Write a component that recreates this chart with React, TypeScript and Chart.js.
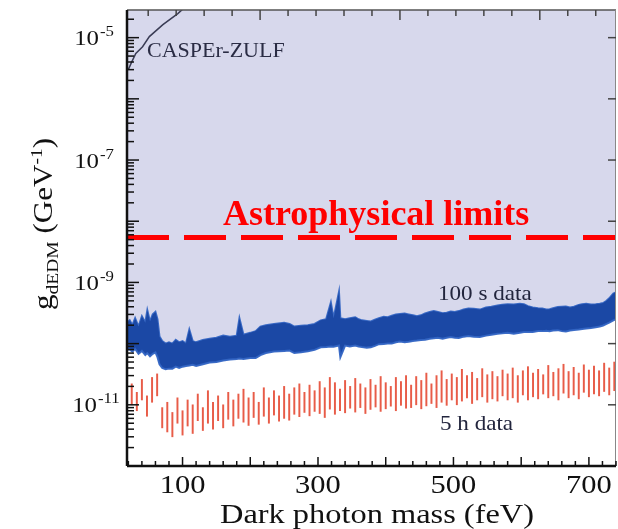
import React, { useEffect, useRef } from "react";
import { Chart, registerables } from "chart.js";

Chart.register(...registerables);

// ---------- data ----------
const blueMass = [18, 22, 26, 30, 35, 40, 45, 48, 52, 56, 60, 63, 66, 70, 75, 80, 85, 90, 95, 100, 105, 110, 115, 120, 130, 140, 150, 160, 170, 180, 184, 190, 200, 208, 215, 223, 235, 250, 258, 265, 275, 285, 295, 304, 312, 319, 323, 331, 333,
  340, 347, 355, 360, 365, 372, 378, 384, 390, 397, 403, 409, 415, 421, 428, 434, 440, 446, 452, 458, 465, 471, 477, 484, 490, 496, 502, 508, 515, 522, 530, 539, 548, 556, 565, 572, 580, 589, 598, 604, 610, 617, 625, 631, 637, 642, 647, 654, 660, 666, 672, 678, 685, 690, 696, 703, 710, 716, 721, 726, 730, 736, 746];
const blueHi = [2.2e-10, 2.4e-10, 2.0e-10, 2.6e-10, 1.9e-10, 2.8e-10, 2.2e-10, 3.5e-10, 2.3e-10, 3.0e-10, 3.3e-10, 2.5e-10, 1.3e-10, 1.1e-10, 1.0e-10, 1.05e-10, 1.0e-10, 1.15e-10, 1.05e-10, 1.1e-10, 1.0e-10, 1.7e-10, 1.1e-10, 1.05e-10, 1.15e-10, 1.2e-10, 1.25e-10, 1.35e-10, 1.3e-10, 1.35e-10, 2.6e-10, 1.4e-10, 1.5e-10, 1.6e-10, 1.9e-10, 2.0e-10, 2.1e-10, 2.2e-10, 2.1e-10, 1.9e-10, 1.95e-10, 2.0e-10, 2.1e-10, 2.4e-10, 2.5e-10, 4.7e-10, 2.6e-10, 7.0e-10, 2.6e-10,
  2.5e-10, 2.6e-10, 2.7e-10, 2.5e-10, 2.4e-10, 2.35e-10, 2.3e-10, 2.45e-10, 2.6e-10, 2.75e-10, 2.7e-10, 2.85e-10, 3.0e-10, 3.05e-10, 3.1e-10, 3.0e-10, 2.9e-10, 2.8e-10, 2.9e-10, 3.1e-10, 3.3e-10, 3.4e-10, 3.3e-10, 3.15e-10, 3.2e-10, 3.35e-10, 3.3e-10, 3.4e-10, 3.6e-10, 3.75e-10, 3.7e-10, 3.6e-10, 3.9e-10, 4.0e-10, 4.2e-10, 4.3e-10, 4.4e-10, 4.35e-10, 4.5e-10, 4.4e-10, 4.1e-10, 3.9e-10, 3.8e-10, 3.75e-10, 3.6e-10, 3.65e-10, 3.8e-10, 3.95e-10, 4.0e-10, 4.05e-10, 3.9e-10, 4.0e-10, 4.3e-10, 4.4e-10, 4.5e-10, 4.35e-10, 4.4e-10, 4.5e-10, 4.6e-10, 5.0e-10, 5.5e-10, 6.6e-10, 7.4e-10];
const blueLo = [8.0e-11, 8.0e-11, 7.4e-11, 8.2e-11, 6.8e-11, 7.6e-11, 6.5e-11, 7.0e-11, 6.2e-11, 6.8e-11, 7.2e-11, 6.0e-11, 4.6e-11, 4.0e-11, 3.8e-11, 3.9e-11, 3.9e-11, 4.2e-11, 4.0e-11, 4.2e-11, 4.3e-11, 4.4e-11, 4.5e-11, 4.3e-11, 4.6e-11, 4.9e-11, 5.0e-11, 5.3e-11, 5.5e-11, 5.6e-11, 5.7e-11, 5.6e-11, 5.8e-11, 5.8e-11, 6.5e-11, 7.0e-11, 7.4e-11, 7.6e-11, 7.7e-11, 7.0e-11, 7.2e-11, 7.5e-11, 7.9e-11, 8.7e-11, 8.8e-11, 9.0e-11, 8.9e-11, 9.3e-11, 6.0e-11,
  9.3e-11, 9.0e-11, 9.3e-11, 9.0e-11, 8.8e-11, 8.6e-11, 8.7e-11, 9.2e-11, 9.8e-11, 9.9e-11, 1.0e-10, 1.0e-10, 1.05e-10, 1.08e-10, 1.05e-10, 1.07e-10, 1.1e-10, 1.12e-10, 1.15e-10, 1.16e-10, 1.2e-10, 1.22e-10, 1.25e-10, 1.2e-10, 1.25e-10, 1.28e-10, 1.25e-10, 1.24e-10, 1.3e-10, 1.33e-10, 1.3e-10, 1.28e-10, 1.35e-10, 1.4e-10, 1.45e-10, 1.47e-10, 1.5e-10, 1.45e-10, 1.5e-10, 1.55e-10, 1.55e-10, 1.55e-10, 1.6e-10, 1.6e-10, 1.62e-10, 1.6e-10, 1.64e-10, 1.66e-10, 1.6e-10, 1.58e-10, 1.64e-10, 1.67e-10, 1.7e-10, 1.74e-10, 1.77e-10, 1.8e-10, 1.85e-10, 1.9e-10, 1.98e-10, 2.1e-10, 2.2e-10, 2.4e-10, 2.7e-10];

const redMass = [25, 32.5, 40, 47.5, 55, 62.5, 70, 77.5, 85, 92.5, 100, 107.5, 115, 122.5, 130, 137.5, 145, 152.5, 160, 167.5, 175, 182.5, 190, 197.5, 205, 212.5, 220, 227.5, 235, 242.5, 250, 257.5, 265, 272.5, 280, 287.5, 295, 302.5, 310, 317.5, 325, 332.5, 340, 347.5, 355, 362.5, 370, 377.5, 385, 392.5, 400, 407.5, 415, 422.5, 430, 437.5, 445, 452.5, 460, 467.5, 475, 482.5, 490, 497.5, 505, 512.5, 520, 527.5, 535, 542.5, 550, 557.5, 565, 572.5, 580, 587.5, 595, 602.5, 610, 617.5, 625, 632.5, 640, 647.5, 655, 662.5, 670, 677.5, 685, 692.5, 700, 707.5, 715, 722.5, 730, 737.5, 745];
const redHi = [2.2e-11, 1.6e-11, 2.6e-11, 1.4e-11, 2.8e-11, 3.2e-11, 9e-12, 1.1e-11, 7.5e-12, 1.3e-11, 8e-12, 1.2e-11, 1.0e-11, 1.5e-11, 9e-12, 1.7e-11, 1.1e-11, 1.4e-11, 1.0e-11, 1.6e-11, 1.2e-11, 1.5e-11, 1.8e-11, 1.3e-11, 1.6e-11, 1.1e-11, 1.9e-11, 1.3e-11, 1.7e-11, 1.4e-11, 2.0e-11, 1.5e-11, 1.9e-11, 2.2e-11, 1.6e-11, 2.1e-11, 1.7e-11, 2.4e-11, 1.9e-11, 2.8e-11, 2.3e-11, 1.8e-11, 2.5e-11, 2.0e-11, 2.7e-11, 2.2e-11, 1.9e-11, 2.6e-11, 2.1e-11, 2.9e-11, 2.3e-11, 2.0e-11, 2.8e-11, 2.4e-11, 3.0e-11, 2.1e-11, 2.9e-11, 2.5e-11, 3.3e-11, 2.2e-11, 3.0e-11, 3.6e-11, 2.6e-11, 3.2e-11, 2.8e-11, 3.8e-11, 3.0e-11, 3.4e-11, 2.7e-11, 3.9e-11, 3.1e-11, 3.5e-11, 2.9e-11, 3.7e-11, 3.2e-11, 4.0e-11, 3.0e-11, 3.6e-11, 4.2e-11, 3.3e-11, 3.8e-11, 3.1e-11, 4.4e-11, 3.4e-11, 3.9e-11, 4.6e-11, 3.5e-11, 4.1e-11, 3.3e-11, 4.5e-11, 3.7e-11, 4.3e-11, 3.6e-11, 4.8e-11, 4.0e-11, 5.0e-11, 4.2e-11];
const redLo = [1.0e-11, 8.0e-12, 1.2e-11, 6.5e-12, 1.1e-11, 1.4e-11, 4.2e-12, 3.6e-12, 3.0e-12, 5.0e-12, 3.2e-12, 4.5e-12, 3.4e-12, 5.5e-12, 3.8e-12, 5.0e-12, 4.0e-12, 5.5e-12, 4.2e-12, 5.8e-12, 4.5e-12, 6.0e-12, 5.2e-12, 4.6e-12, 6.2e-12, 4.8e-12, 6.5e-12, 5.0e-12, 6.8e-12, 5.4e-12, 6.0e-12, 5.6e-12, 7.0e-12, 6.4e-12, 7.5e-12, 6.6e-12, 7.8e-12, 7.2e-12, 6.2e-12, 8.5e-12, 7.0e-12, 8.0e-12, 7.4e-12, 8.8e-12, 7.6e-12, 9.0e-12, 7.2e-12, 8.4e-12, 9.2e-12, 7.8e-12, 8.6e-12, 9.5e-12, 8.0e-12, 9.8e-12, 8.8e-12, 9.0e-12, 1.0e-11, 8.6e-12, 9.6e-12, 1.05e-11, 9.0e-12, 1.1e-11, 9.8e-12, 1.2e-11, 1.0e-11, 1.15e-11, 1.3e-11, 1.05e-11, 1.2e-11, 1.35e-11, 1.1e-11, 1.25e-11, 1.15e-11, 1.4e-11, 1.2e-11, 1.3e-11, 1.1e-11, 1.45e-11, 1.2e-11, 1.35e-11, 1.25e-11, 1.5e-11, 1.3e-11, 1.4e-11, 1.2e-11, 1.55e-11, 1.3e-11, 1.45e-11, 1.25e-11, 1.6e-11, 1.35e-11, 1.5e-11, 1.4e-11, 1.65e-11, 1.45e-11, 1.7e-11, 1.5e-11];

const casperMass = [20, 24, 31, 41, 51, 71, 93, 100];
const casperG = [3.0e-6, 3.8e-6, 5.5e-6, 7.1e-6, 1.04e-5, 1.63e-5, 2.47e-5, 2.9e-5];

const astroLimit = 5.4e-9;

const xTickValues = [100, 300, 500, 700];
const yTickExponents = [-5, -7, -9, -11];

const X_MIN = 18;
const X_MAX = 740;
const Y_MIN = 1e-12;
const Y_MAX = 2.83e-5;

const SERIF = '"Liberation Serif", "Times New Roman", serif';

function drawStretched(
  ctx: CanvasRenderingContext2D,
  text: string,
  x: number,
  y: number,
  font: string,
  align: "left" | "center" | "right",
  sx: number,
  color: string
): number {
  ctx.save();
  ctx.font = font;
  ctx.fillStyle = color;
  ctx.textBaseline = "alphabetic";
  ctx.textAlign = "left";
  const w = ctx.measureText(text).width * sx;
  let left = x;
  if (align === "center") left = x - w / 2;
  else if (align === "right") left = x - w;
  ctx.translate(left, y);
  ctx.scale(sx, 1);
  ctx.fillText(text, 0, 0);
  ctx.restore();
  return w;
}

const overlay = {
  id: "overlay",
  afterDraw(chart: any) {
    const { ctx, chartArea: a, scales } = chart;
    const xs = scales.x;
    const ys = scales.y;
    const line = (x1: number, y1: number, x2: number, y2: number) => {
      ctx.beginPath();
      ctx.moveTo(x1, y1);
      ctx.lineTo(x2, y2);
      ctx.stroke();
    };
    ctx.save();
    // frame: top and right
    ctx.strokeStyle = "#555";
    ctx.lineWidth = 1.5;
    line(a.left, a.top, a.right, a.top);
    ctx.strokeStyle = "#888";
    ctx.lineWidth = 1;
    line(a.right - 0.5, a.top, a.right - 0.5, a.bottom);
    // left and bottom axes
    ctx.strokeStyle = "#111";
    ctx.lineWidth = 2.5;
    line(a.left, a.top, a.left, a.bottom);
    line(a.left, a.bottom, a.right, a.bottom);

    // left ticks (log minor)
    ctx.lineWidth = 1.5;
    ctx.strokeStyle = "#111";
    for (let d = -12; d <= -5; d++) {
      for (let k = 1; k <= 9; k++) {
        const v = k * Math.pow(10, d);
        if (v < Y_MIN * 0.999 || v > Y_MAX) continue;
        const py = ys.getPixelForValue(v);
        line(a.left, py, a.left + (k === 1 ? 12 : 7), py);
      }
    }
    // right ticks at decades
    ctx.strokeStyle = "#444";
    for (let d = -11; d <= -5; d++) {
      const py = ys.getPixelForValue(Math.pow(10, d));
      line(a.right, py, a.right - 8, py);
    }
    // bottom ticks
    ctx.strokeStyle = "#111";
    for (let m = 20; m <= X_MAX; m += 20) {
      const px = xs.getPixelForValue(m);
      line(px, a.bottom, px, a.bottom - (m % 100 === 0 ? 9 : 5));
    }
    // top ticks
    ctx.strokeStyle = "#444";
    for (let i = 0; i < 20; i++) {
      const m = 8 + 41.3 * i;
      if (m < X_MIN || m > X_MAX) continue;
      const px = xs.getPixelForValue(m);
      line(px, a.top, px, a.top + (i % 5 === 0 ? 10 : 6));
    }

    // y tick labels
    const black = "#111";
    for (const e of yTickExponents) {
      const py = ys.getPixelForValue(Math.pow(10, e));
      const right = e === -11 ? 97 : 99;
      drawStretched(ctx, "10", right, py + 7.5, `22px ${SERIF}`, "right", 1.13, black);
      drawStretched(ctx, "-" + String(-e), right + 1, py - 1.5, `14px ${SERIF}`, "left", 1.2, black);
    }
    // x tick labels
    for (const v of xTickValues) {
      const px = xs.getPixelForValue(v);
      drawStretched(ctx, String(v), px, 493, `25px ${SERIF}`, "center", 1.22, black);
    }
    // x title
    drawStretched(ctx, "Dark photon mass (feV)", 377, 523, `27px ${SERIF}`, "center", 1.2, black);

    // y title, rotated
    ctx.save();
    ctx.translate(52, 224);
    ctx.rotate(-Math.PI / 2);
    const big = `27px ${SERIF}`;
    const small = `17px ${SERIF}`;
    const sx = 1.15;
    ctx.font = big;
    const wg = ctx.measureText("g").width * sx;
    const wmid = ctx.measureText(" (GeV").width * sx;
    const wclose = ctx.measureText(")").width * sx;
    ctx.font = small;
    const wsub = ctx.measureText("dEDM").width * sx;
    const wsup = ctx.measureText("-1").width * sx;
    const total = wg + wsub + wmid + wsup + wclose;
    let u = -total / 2;
    u += drawStretched(ctx, "g", u, 0, big, "left", sx, black);
    u += drawStretched(ctx, "dEDM", u, 6, small, "left", sx, black);
    u += drawStretched(ctx, " (GeV", u, 0, big, "left", sx, black);
    u += drawStretched(ctx, "-1", u, -10, small, "left", sx, black);
    drawStretched(ctx, ")", u, 0, big, "left", sx, black);
    ctx.restore();

    // annotations
    drawStretched(ctx, "Astrophysical limits", 223, 225, `bold 36px ${SERIF}`, "left", 1.0, "#ff0000");
    drawStretched(ctx, "CASPEr-ZULF", 147, 57, `22px ${SERIF}`, "left", 1.0, "#2a2c44");
    drawStretched(ctx, "100 s data", 438, 300, `22px ${SERIF}`, "left", 1.05, "#22253d");
    drawStretched(ctx, "5 h data", 440, 430, `22px ${SERIF}`, "left", 1.05, "#22253d");
    ctx.restore();
  },
};

export default function App() {
  const canvasRef = useRef<HTMLCanvasElement | null>(null);

  useEffect(() => {
    const canvas = canvasRef.current;
    if (!canvas) return;
    const upper = blueMass.map((m, i) => ({ x: m, y: blueHi[i] }));
    const lower = blueMass.map((m, i) => ({ x: m, y: blueLo[i] }));
    const spikes = redMass.map((m, i) => ({ x: m, y: [redLo[i], redHi[i]] }));
    const casper = casperMass.map((m, i) => ({ x: m, y: casperG[i] }));
    const astro = [
      { x: X_MIN, y: astroLimit },
      { x: X_MAX, y: astroLimit },
    ];

    const chart = new Chart(canvas, {
      type: "line",
      data: {
        datasets: [
          {
            label: "excluded",
            data: upper,
            fill: "end",
            backgroundColor: "rgb(215,216,236)",
            borderWidth: 0,
            borderColor: "rgba(0,0,0,0)",
            pointRadius: 0,
            order: 6,
          },
          {
            label: "100 s upper",
            data: upper,
            fill: false,
            borderColor: "rgba(50,100,195,0.95)",
            borderWidth: 2,
            pointRadius: 0,
            order: 5,
          },
          {
            label: "100 s data",
            data: lower,
            fill: 1,
            backgroundColor: "rgb(27,72,165)",
            borderColor: "rgba(50,100,195,0.95)",
            borderWidth: 2,
            pointRadius: 0,
            order: 4,
          },
          {
            type: "bar",
            label: "5 h data",
            data: spikes,
            backgroundColor: "rgb(232,92,72)",
            borderWidth: 0,
            barThickness: 1.3,
            grouped: false,
            order: 3,
          },
          {
            label: "CASPEr-ZULF",
            data: casper,
            fill: false,
            borderColor: "#3a3c55",
            borderWidth: 1.5,
            pointRadius: 0,
            order: 2,
          },
          {
            label: "Astrophysical limits",
            data: astro,
            fill: false,
            borderColor: "#ff0000",
            borderWidth: 5,
            borderDash: [42, 15],
            pointRadius: 0,
            order: 1,
          },
        ],
      } as any,
      options: {
        animation: false,
        responsive: false,
        devicePixelRatio: 1,
        layout: { padding: { left: 127, right: 2, top: 10, bottom: 63 } },
        plugins: {
          legend: { display: false },
          tooltip: { enabled: false },
        },
        scales: {
          x: { type: "linear", min: X_MIN, max: X_MAX, display: false, offset: false },
          y: { type: "logarithmic", min: Y_MIN, max: Y_MAX, display: false },
        },
        elements: { line: { tension: 0 }, point: { radius: 0 } },
      } as any,
      plugins: [overlay],
    });
    return () => chart.destroy();
  }, []);

  return (
    <div style={{ position: "absolute", left: 0, top: 0, width: 618, height: 529, background: "#fff" }}>
      <canvas ref={canvasRef} width={618} height={529} style={{ display: "block" }} />
    </div>
  );
}
